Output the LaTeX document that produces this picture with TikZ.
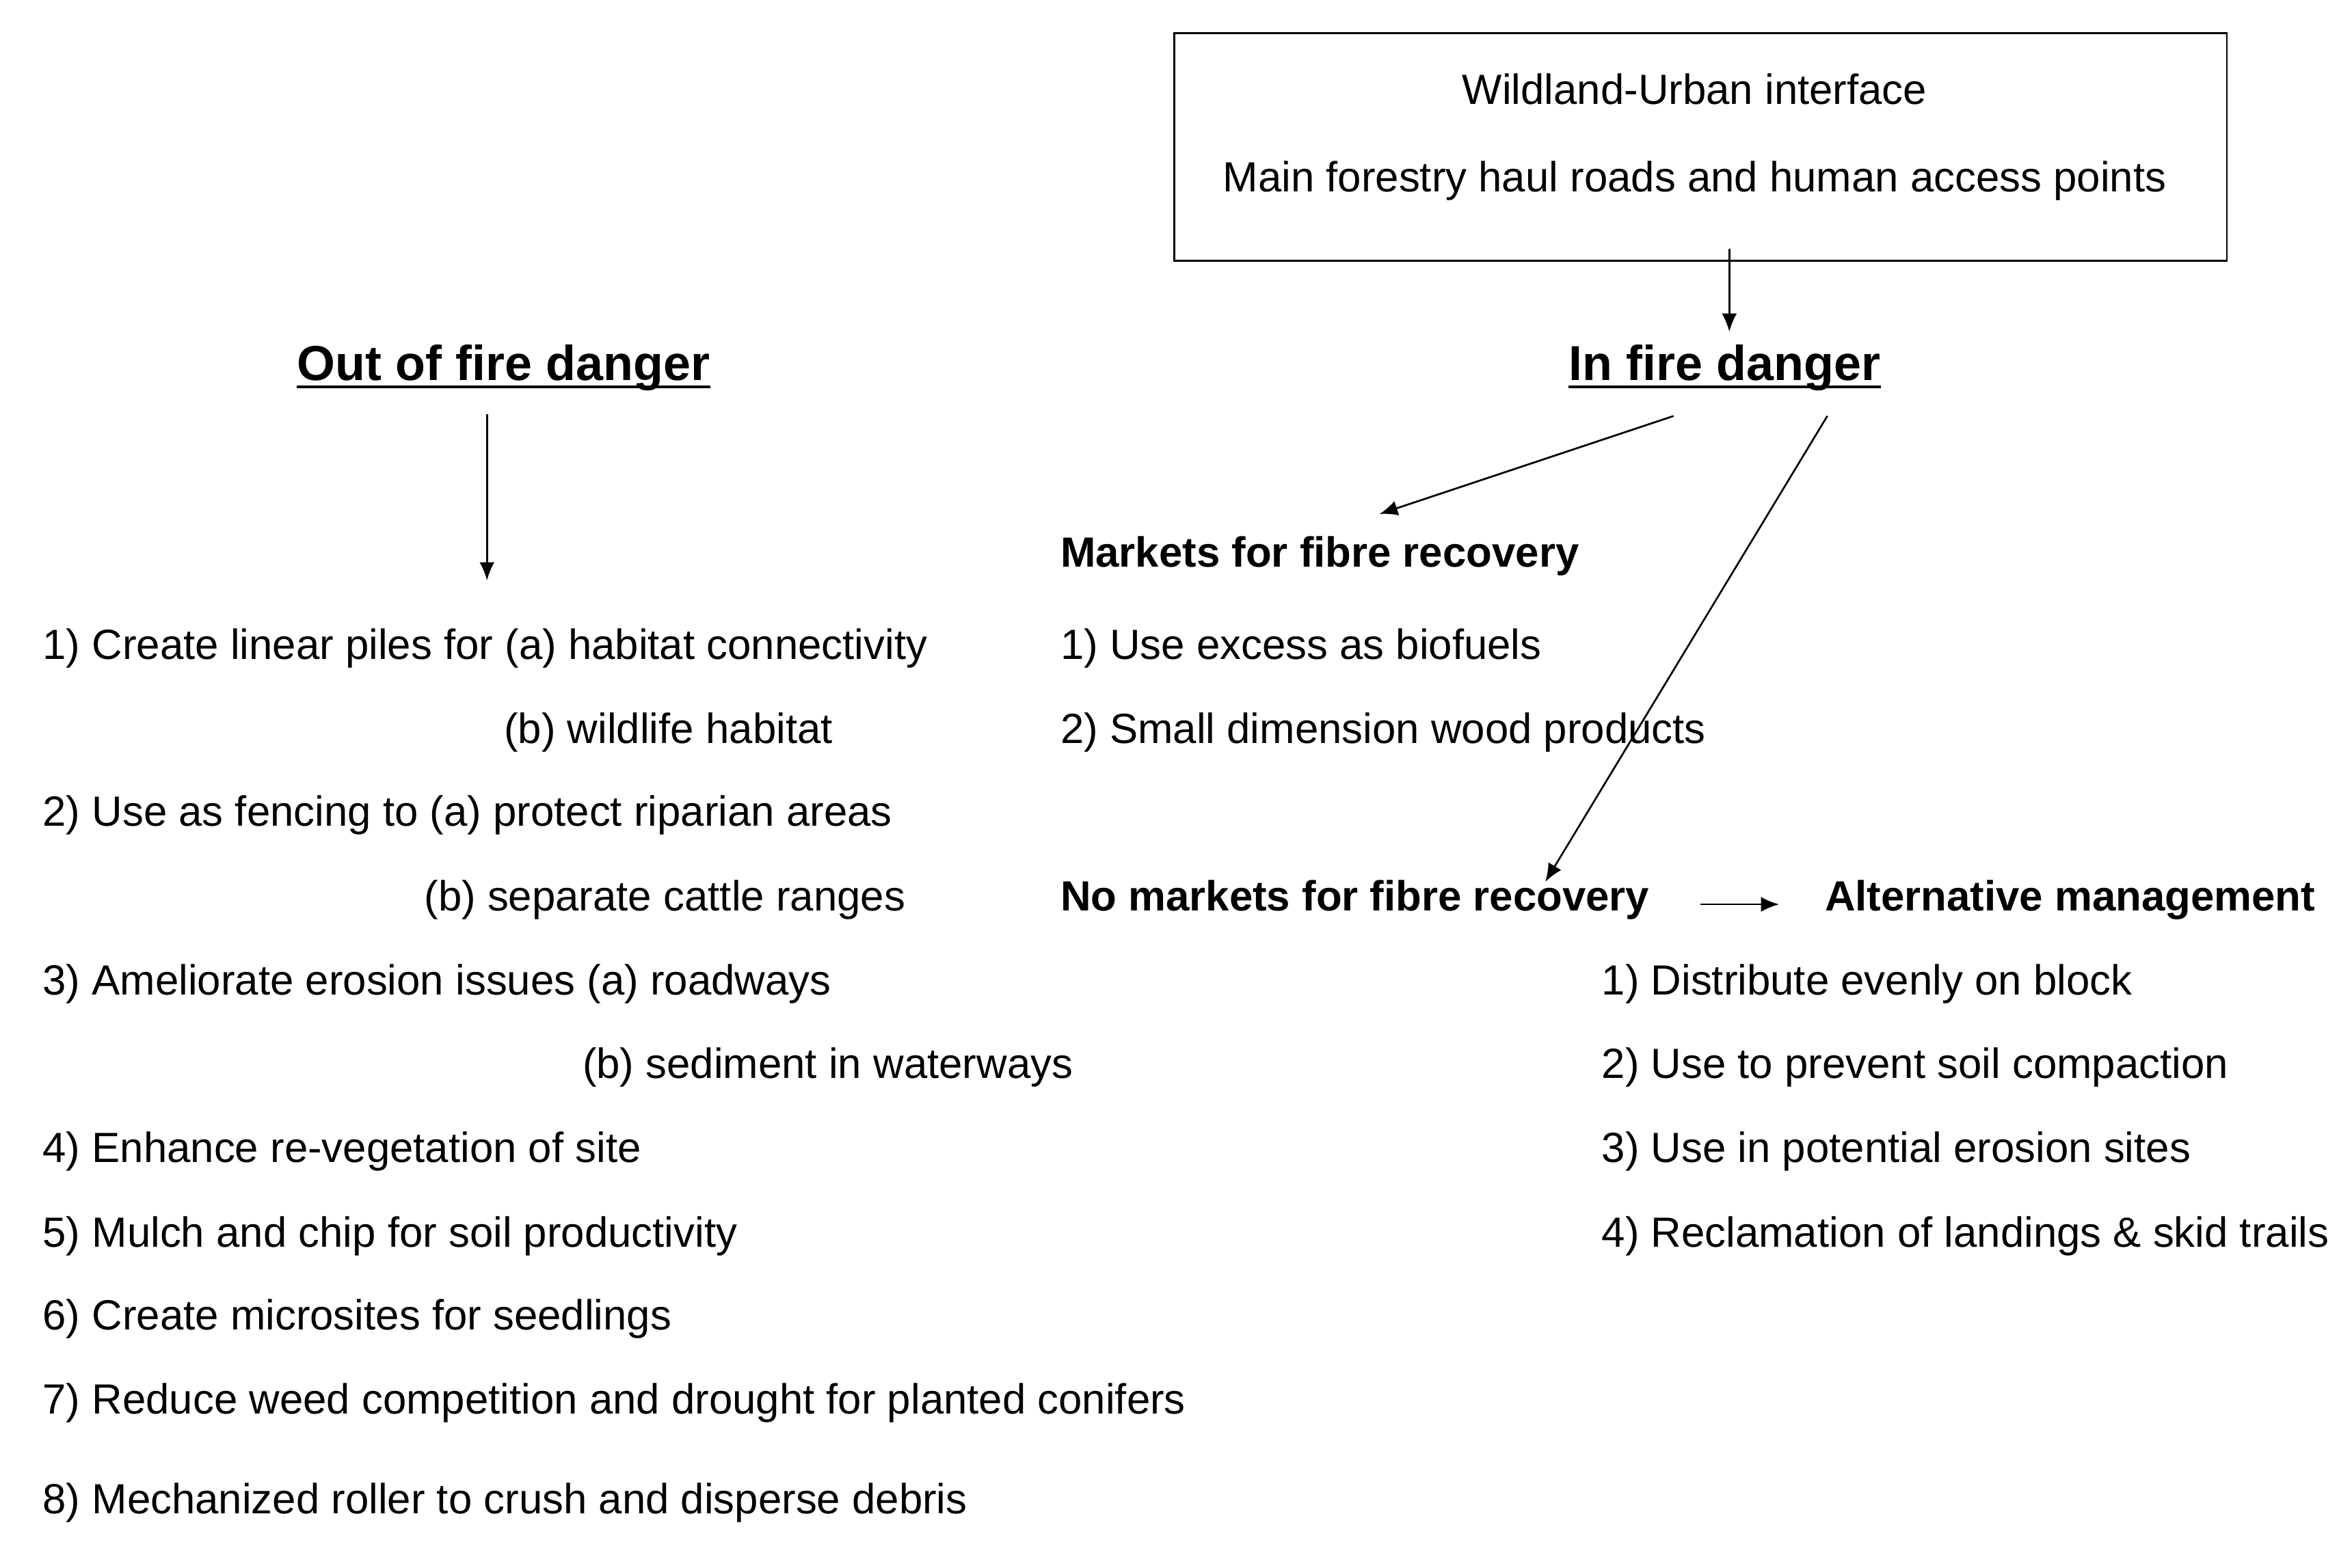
\documentclass[tikz,border=0pt]{standalone}
\usepackage{fontspec}
\setmainfont{Liberation Sans}
\usetikzlibrary{arrows.meta}
\newcommand{\ul}[1]{\tikz[baseline=(u.base)]{\node[inner sep=0pt] (u) {#1};\draw[line width=0.9pt] ([yshift=-2.2pt]u.base west) -- ([yshift=-2.2pt]u.base east);}}
\begin{document}
\begin{tikzpicture}[x=0.5pt,y=-0.5pt,
 t/.style={anchor=west,inner sep=0pt,font=\fontsize{14}{16}\selectfont},
 h/.style={inner sep=0pt,font=\fontsize{16.3}{18}\selectfont\bfseries},
 b/.style={t,font=\fontsize{14}{16}\selectfont\bfseries},
 ar/.style={-{Latex[length=6pt,width=5pt]},line width=0.6pt}]
\useasboundingbox (0,0) rectangle (1560,1040);
\node[draw,line width=0.6pt,minimum width=349pt,minimum height=75.5pt,inner sep=0pt] (box) at (1128,97.5) {};
\node[t,anchor=center] (w1) at (1124,59) {Wildland-Urban interface};
\node[t,anchor=center] (w2) at (1124,120) {Main forestry haul roads and human access points};
\node[h] (in) at (1144,244) {\ul{In fire danger}};
\node[h] (out) at (334,244) {\ul{Out of fire danger}};
\coordinate (a1) at (1147,165); \coordinate (a2) at (1147,220);
\draw[ar] (a1) -- (a2);
\coordinate (o1) at (323,275); \coordinate (o2) at (323,385);
\draw[ar] (o1) -- (o2);
\coordinate (m1) at (1110,276); \coordinate (m2) at (915,341);
\draw[ar] (m1) -- (m2);
\coordinate (n1) at (1212,276); \coordinate (n2) at (1025,585);
\draw[ar] (n1) -- (n2);
\node[b] (mk) at (703,369) {Markets for fibre recovery};
\node[t] (l1) at (28,430) {1) Create linear piles for (a) habitat connectivity};
\node[t] (l1b) at (334,486) {(b) wildlife habitat};
\node[t] (l2) at (28,541) {2) Use as fencing to (a) protect riparian areas};
\node[t] (l2b) at (281,597) {(b) separate cattle ranges};
\node[t] (l3) at (28,653) {3) Ameliorate erosion issues (a) roadways};
\node[t] (l3b) at (386,708) {(b) sediment in waterways};
\node[t] (l4) at (28,764) {4) Enhance re-vegetation of site};
\node[t] (l5) at (28,820) {5) Mulch and chip for soil productivity};
\node[t] (l6) at (28,875) {6) Create microsites for seedlings};
\node[t] (l7) at (28,931) {7) Reduce weed competition and drought for planted conifers};
\node[t] (l8) at (28,997) {8) Mechanized roller to crush and disperse debris};
\node[t] (r1) at (703,430) {1) Use excess as biofuels};
\node[t] (r2) at (703,486) {2) Small dimension wood products};
\node[b] (nm) at (703,597) {No markets for fibre recovery};
\node[b] (alt) at (1210,597) {Alternative management};
\coordinate (x1) at (1128,600); \coordinate (x2) at (1180,600);
\draw[ar] (x1) -- (x2);
\node[t] (s1) at (1062,653) {1) Distribute evenly on block};
\node[t] (s2) at (1062,708) {2) Use to prevent soil compaction};
\node[t] (s3) at (1062,764) {3) Use in potential erosion sites};
\node[t] (s4) at (1062,820) {4) Reclamation of landings \& skid trails};
\end{tikzpicture}
\end{document}
